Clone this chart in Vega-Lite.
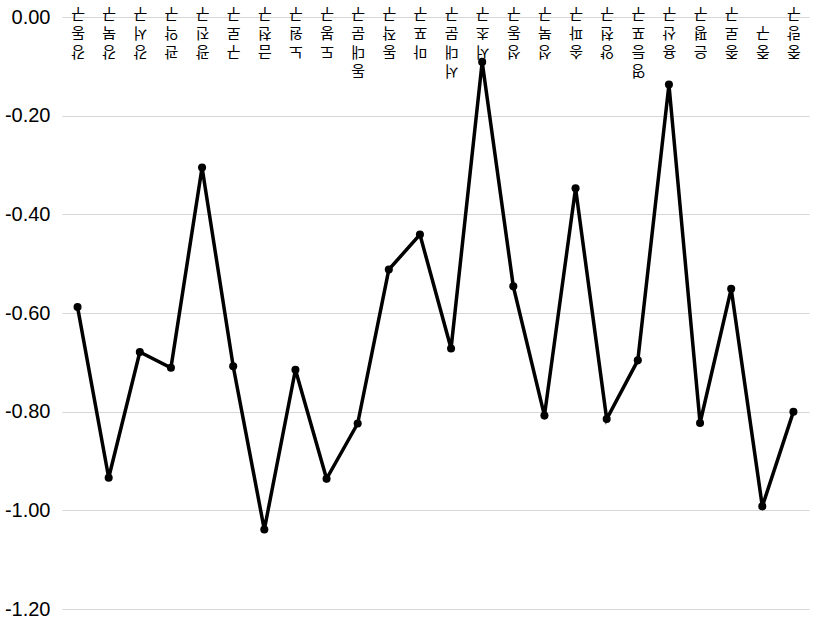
{
  "$schema": "https://vega.github.io/schema/vega-lite/v6.json",
  "autosize": {"type": "none"},
  "padding": {"left": 62, "top": 17, "right": 18, "bottom": 18},
  "width": 747,
  "height": 592,
  "config": {
    "view": {"stroke": null},
    "locale": {"number": {"decimal": ".", "thousands": ",", "grouping": [3], "currency": ["$", ""], "minus": "-"}}
  },
  "data": {
    "values": [
      {"gu": "강동구", "value": -0.588},
      {"gu": "강북구", "value": -0.934},
      {"gu": "강서구", "value": -0.679},
      {"gu": "관악구", "value": -0.711},
      {"gu": "광진구", "value": -0.305},
      {"gu": "구로구", "value": -0.708},
      {"gu": "금천구", "value": -1.039},
      {"gu": "노원구", "value": -0.715},
      {"gu": "도봉구", "value": -0.936},
      {"gu": "동대문구", "value": -0.824},
      {"gu": "동작구", "value": -0.512},
      {"gu": "마포구", "value": -0.441},
      {"gu": "서대문구", "value": -0.672},
      {"gu": "서초구", "value": -0.091},
      {"gu": "성동구", "value": -0.546},
      {"gu": "성북구", "value": -0.808},
      {"gu": "송파구", "value": -0.347},
      {"gu": "양천구", "value": -0.815},
      {"gu": "영등포구", "value": -0.696},
      {"gu": "용산구", "value": -0.137},
      {"gu": "은평구", "value": -0.823},
      {"gu": "종로구", "value": -0.551},
      {"gu": "중구", "value": -0.992},
      {"gu": "중랑구", "value": -0.800}
    ]
  },
  "mark": {
    "type": "line",
    "color": "black",
    "strokeWidth": 3.5,
    "point": {"filled": true, "size": 65, "color": "black"}
  },
  "encoding": {
    "x": {
      "field": "gu",
      "type": "nominal",
      "sort": null,
      "scale": {"type": "point", "padding": 0.5},
      "axis": {
        "orient": "top",
        "title": null,
        "domain": false,
        "ticks": false,
        "grid": false,
        "labelAngle": 180,
        "labelAlign": "center",
        "labelBaseline": "bottom",
        "labelPadding": -45,
        "labelLineHeight": 19,
        "labelOverlap": false,
        "labelBound": false,
        "labelFlush": false,
        "labelFont": "Noto Sans CJK KR",
        "labelFontSize": 15,
        "labelColor": "#000000",
        "labelExpr": "split(pad(datum.label, 4, '\u00a0', 'left'), '')"
      }
    },
    "y": {
      "field": "value",
      "type": "quantitative",
      "scale": {"domain": [-1.2, 0], "nice": false, "zero": false},
      "axis": {
        "title": null,
        "values": [-1.2, -1.0, -0.8, -0.6, -0.4, -0.2, 0],
        "format": ".2f",
        "domain": false,
        "ticks": false,
        "grid": true,
        "gridColor": "#d6d6d6",
        "gridWidth": 1,
        "labelPadding": 12,
        "labelFont": "Liberation Sans",
        "labelFontSize": 20,
        "labelColor": "#000000"
      }
    }
  }
}
